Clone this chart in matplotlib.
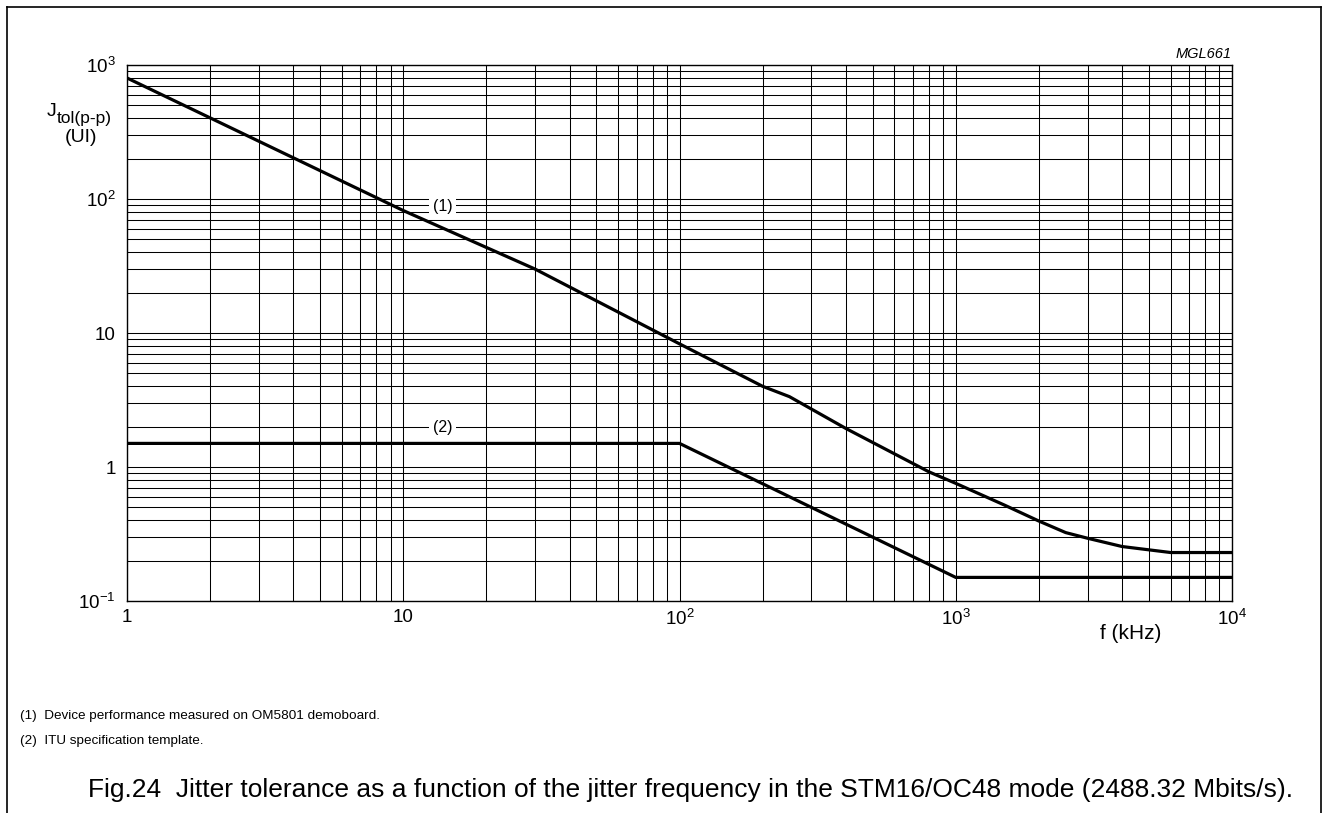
import matplotlib
matplotlib.use("Agg")
import matplotlib.pyplot as plt
from matplotlib.lines import Line2D
from matplotlib.ticker import FixedLocator, LogLocator, NullFormatter

plt.rcParams['font.family'] = ['Liberation Sans', 'DejaVu Sans']
plt.rcParams['mathtext.fontset'] = 'custom'
plt.rcParams['mathtext.rm'] = 'Liberation Sans'
plt.rcParams['mathtext.it'] = 'Liberation Sans:italic'
plt.rcParams['mathtext.bf'] = 'Liberation Sans:bold'

# Data
freq_device = [1, 10, 30, 100, 200, 250, 400, 800, 1000, 1500, 2000, 2500, 3000, 4000, 6000, 10000]
jtol_device = [800, 82, 30, 8.3, 4.0, 3.35, 1.94, 0.92, 0.755, 0.52, 0.395, 0.324, 0.294, 0.255, 0.23, 0.23]
freq_itu = [1, 100, 1000, 10000]
jtol_itu = [1.5, 1.5, 0.15, 0.15]

xticks = [1, 10, 100, 1000, 10000]
xticklabels = ['1', '10', r'10$^2$', r'10$^3$', r'10$^4$']
yticks = [0.1, 1, 10, 100, 1000]
yticklabels = [r'10$^{-1}$', '1', '10', r'10$^2$', r'10$^3$']

W, H = 1329, 813
fig = plt.figure(figsize=(13.29, 8.13), dpi=100)
ax = fig.add_axes([127/W, 1-601/H, (1232-127)/W, (601-65)/H])
ax.set_xscale('log')
ax.set_yscale('log')
ax.set_xlim(1, 1e4)
ax.set_ylim(0.1, 1000)

ax.plot(freq_device, jtol_device, color='black', lw=2.3, solid_joinstyle='round', zorder=3)
ax.plot(freq_itu, jtol_itu, color='black', lw=2.3, solid_joinstyle='miter', zorder=3)

ax.xaxis.set_major_locator(FixedLocator(xticks))
ax.yaxis.set_major_locator(FixedLocator(yticks))
ax.set_xticklabels(xticklabels, fontsize=13.5)
ax.set_yticklabels(yticklabels, fontsize=13.5)
ax.xaxis.set_minor_locator(LogLocator(base=10, subs=range(2, 10)))
ax.yaxis.set_minor_locator(LogLocator(base=10, subs=range(2, 10)))
ax.xaxis.set_minor_formatter(NullFormatter())
ax.yaxis.set_minor_formatter(NullFormatter())
ax.tick_params(which='both', length=0)
ax.tick_params(axis='x', pad=6)
ax.tick_params(axis='y', pad=8)
ax.grid(which='both', color='black', lw=0.75)
for s in ax.spines.values():
    s.set_linewidth(1.0)

ax.text(13.9, 88, '(1)', ha='center', va='center', fontsize=11.5,
        bbox=dict(facecolor='white', edgecolor='none', pad=2.5), zorder=4)
ax.text(13.9, 1.97, '(2)', ha='center', va='center', fontsize=11.5,
        bbox=dict(facecolor='white', edgecolor='none', pad=2.5), zorder=4)

fig.text(47/W, 1-112/H, 'J', ha='left', va='center', fontsize=14)
fig.text(57/W, 1-119/H, 'tol(p-p)', ha='left', va='center', fontsize=12.5)
fig.text(81/W, 1-137/H, '(UI)', ha='center', va='center', fontsize=14)
fig.text(1131/W, 1-633/H, 'f (kHz)', ha='center', va='center', fontsize=15)
fig.text(1232/W, 1-54/H, 'MGL661', ha='right', va='center', fontsize=10.5, style='italic')

fig.text(20/W, 1-716/H, '(1)  Device performance measured on OM5801 demoboard.', ha='left', va='center', fontsize=9.7)
fig.text(20/W, 1-741/H, '(2)  ITU specification template.', ha='left', va='center', fontsize=9.7)
fig.text(88/W, 1-790/H, 'Fig.24  Jitter tolerance as a function of the jitter frequency in the STM16/OC48 mode (2488.32 Mbits/s).',
         ha='left', va='center', fontsize=19)

# page frame
fig.add_artist(Line2D([7/W, 7/W], [0, 1-7/H], color='black', lw=1.2, transform=fig.transFigure))
fig.add_artist(Line2D([7/W, 1321/W], [1-7/H, 1-7/H], color='black', lw=1.2, transform=fig.transFigure))
fig.add_artist(Line2D([1321/W, 1321/W], [0, 1-7/H], color='black', lw=1.2, transform=fig.transFigure))

fig.savefig('out.png', dpi=100)
